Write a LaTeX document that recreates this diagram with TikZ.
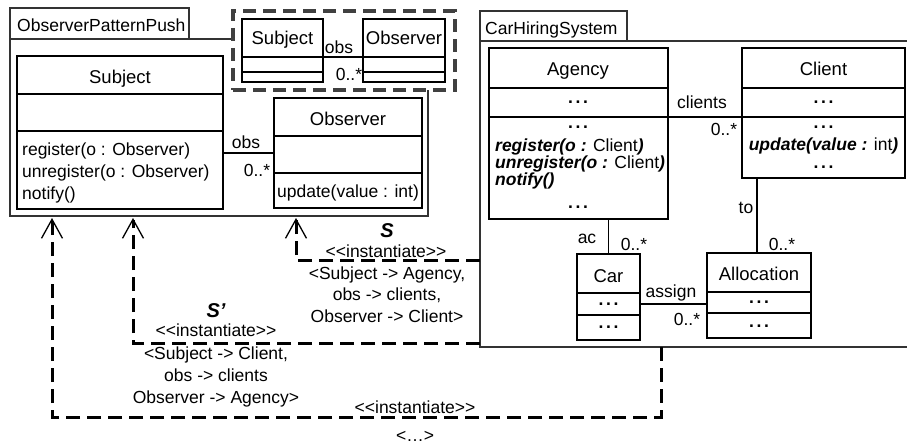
\documentclass[tikz,border=0pt]{standalone}
\usepackage{fontspec}
\setmainfont{Liberation Sans}
\usetikzlibrary{arrows.meta}
\newcommand\mysz{\fontsize{17.5}{20}\selectfont}
\newcommand\mynm{\fontsize{18.5}{22}\selectfont}
\newcommand\mybig{\fontsize{20}{24}\selectfont\bfseries\itshape}
\newcommand\mybi[1]{{\bfseries\itshape #1}}
\newcommand\myddd{\textbf{.\hspace{2.6pt}.\hspace{2.6pt}.}}
\tikzset{
  cls/.style={draw=black, line width=1.2pt, fill=white, anchor=north west, inner sep=0pt, outer sep=0pt},
  pkgbox/.style={draw=black!80, line width=1.6pt, anchor=north west, inner sep=0pt, outer sep=0pt},
  pkgline/.style={draw=black!80, line width=1.6pt},
  tmpl/.style={draw=black!75, line width=3.2pt, dash pattern=on 13pt off 7pt, fill=white, anchor=north west, inner sep=0pt, outer sep=0pt},
  sepline/.style={line width=1.2pt},
  assoc/.style={line width=1.2pt},
  txt/.style={inner sep=0pt, anchor=base, font=\mysz},
  txtl/.style={inner sep=0pt, anchor=base west, font=\mysz},
  cname/.style={inner sep=0pt, anchor=base, font=\mynm},
  bigl/.style={inner sep=0pt, anchor=base, font=\mybig},
  inst/.style={line width=3pt, dash pattern=on 14pt off 7pt, line join=miter},
  realizes/.style={-{Straight Barb[length=19pt,width=21pt,line width=1.3pt]}},
}
\begin{document}
\begin{tikzpicture}[x=1pt,y=-1pt]
\useasboundingbox (0,0) rectangle (907,444);
% ---------- ObserverPatternPush ----------
\node[pkgbox, minimum width=418pt, minimum height=177pt] (opp) at (10,39) {};
\node[pkgbox, minimum width=179pt, minimum height=31pt] (oppTab) at (10,8) {};
\node[txtl] (oppName) at (17,32) {ObserverPatternPush};
% template parameters
\node[tmpl, minimum width=222pt, minimum height=79pt] (tpl) at (233,11) {};
\node[cls, minimum width=81pt, minimum height=63pt] (tS) at (242,19) {};
\node[cls, minimum width=82pt, minimum height=63pt] (tO) at (363,19) {};
\draw[sepline] (tS.west |- 0,57) -- (tS.east |- 0,57) (tS.west |- 0,72) -- (tS.east |- 0,72);
\draw[sepline] (tO.west |- 0,57) -- (tO.east |- 0,57) (tO.west |- 0,72) -- (tO.east |- 0,72);
\node[cname] (tSn) at (282.5,45) {Subject};
\node[cname] (tOn) at (404,45) {Observer};
\draw[assoc] (tS.east |- 0,57) -- (tO.west |- 0,57);
\node[txt] (tobs) at (339,53) {obs};
\node[txt] (tmul) at (349,80) {0..*};
% Subject
\node[cls, minimum width=206pt, minimum height=153pt] (subj) at (17,56) {};
\draw[sepline] (subj.west |- 0,94) -- (subj.east |- 0,94) (subj.west |- 0,131) -- (subj.east |- 0,131);
\node[cname] (subjN) at (120,83) {Subject};
\node[txtl] (subjM1) at (22,155) {register(o : Observer)};
\node[txtl] (subjM2) at (22,177) {unregister(o : Observer)};
\node[txtl] (subjM3) at (22,199) {notify()};
% Observer
\node[cls, minimum width=148pt, minimum height=110pt] (obsv) at (274,98) {};
\draw[sepline] (obsv.west |- 0,136) -- (obsv.east |- 0,136) (obsv.west |- 0,173) -- (obsv.east |- 0,173);
\node[cname] (obsvN) at (348,125) {Observer};
\node[txtl] (obsvM1) at (277,197) {update(value : int)};
\draw[assoc] (subj.east |- 0,153) -- (obsv.west |- 0,153);
\node[txt] (aobs) at (246,148) {obs};
\node[txt] (amul) at (257,176) {0..*};
% ---------- CarHiringSystem ----------
\node[pkgbox, minimum width=147pt, minimum height=30pt] (chsTab) at (480,11) {};
\node[txtl] (chsName) at (485,35) {CarHiringSystem};
\coordinate (chsNE) at (907,41);
\coordinate (chsNW) at (480,41);
\coordinate (chsSW) at (480,347);
\coordinate (chsSE) at (907,347);
\draw[pkgline] (chsNE) -- (chsNW) -- (chsSW) -- (chsSE);
% Agency
\node[cls, minimum width=179pt, minimum height=171pt] (ag) at (489,48) {};
\draw[sepline] (ag.west |- 0,88) -- (ag.east |- 0,88) (ag.west |- 0,117) -- (ag.east |- 0,117);
\node[cname] (agN) at (578,75) {Agency};
\node[txt] (agD1) at (578,103) {\myddd};
\node[txt] (agD2) at (578,128) {\myddd};
\node[txtl] (agM1) at (495,151) {\mybi{register(o :} Client\mybi{)}};
\node[txtl] (agM2) at (495,168) {\mybi{unregister(o :} Client\mybi{)}};
\node[txtl] (agM3) at (495,185) {\mybi{notify()}};
\node[txt] (agD3) at (578,208) {\myddd};
% Client
\node[cls, minimum width=163pt, minimum height=130pt] (cl) at (742,48) {};
\draw[sepline] (cl.west |- 0,88) -- (cl.east |- 0,88) (cl.west |- 0,117) -- (cl.east |- 0,117);
\node[cname] (clN) at (823.5,75) {Client};
\node[txt] (clD1) at (823.5,103) {\myddd};
\node[txt] (clD2) at (823.5,128) {\myddd};
\node[txt] (clM1) at (823.5,150) {\mybi{update(value :} int\mybi{)}};
\node[txt] (clD3) at (823.5,168) {\myddd};
% Car
\node[cls, minimum width=63pt, minimum height=86pt] (car) at (577,254) {};
\draw[sepline] (car.west |- 0,293) -- (car.east |- 0,293) (car.west |- 0,315) -- (car.east |- 0,315);
\node[cname] (carN) at (608.5,282) {Car};
\node[txt] (carD1) at (608.5,305) {\myddd};
\node[txt] (carD2) at (608.5,328) {\myddd};
% Allocation
\node[cls, minimum width=104pt, minimum height=85pt] (al) at (707,253) {};
\draw[sepline] (al.west |- 0,292) -- (al.east |- 0,292) (al.west |- 0,313) -- (al.east |- 0,313);
\node[cname] (alN) at (759,280) {Allocation};
\node[txt] (alD1) at (759,303) {\myddd};
\node[txt] (alD2) at (759,327) {\myddd};
% associations
\draw[assoc] (ag.east |- 0,117) -- (cl.west |- 0,117);
\node[txt] (lclients) at (702,108) {clients};
\node[txt] (mclients) at (724,135) {0..*};
\draw[assoc] (ag.south -| car.north) -- (car.north);
\node[txt] (lac) at (587,243) {ac};
\node[txt] (mac) at (634,250) {0..*};
\draw[assoc] (cl.south -| 757,0) -- (al.north -| 757,0);
\node[txt] (lto) at (746,213) {to};
\node[txt] (mto) at (782,250) {0..*};
\draw[assoc] (car.east |- 0,304) -- (al.west |- 0,304);
\node[txt] (lassign) at (671,297) {assign};
\node[txt] (massign) at (687,325) {0..*};
% ---------- instantiations ----------
\coordinate (t1) at (52,218);
\coordinate (t2) at (133,218);
\coordinate (t3) at (296,218);
\coordinate (s1) at (661,347);
\coordinate (s2) at (480,343);
\coordinate (s3) at (480,260);
\draw[inst, realizes] (s1) -- (661,417) -| (t1);
\draw[inst, realizes] (s2) -| (t2);
\draw[inst, realizes] (s3) -| (t3);
% labels S
\node[bigl] (lS) at (387,237) {S};
\node[txt] (iS0) at (386,257) {<{}<instantiate>{}>};
\node[txt] (iS1) at (387,279) {<Subject -> Agency,};
\node[txt] (iS2) at (387,300) {obs -> clients,};
\node[txt] (iS3) at (387,322) {Observer -> Client>};
% labels S'
\node[bigl] (lS2) at (216,317) {S'};
\node[txt] (iT0) at (216,336) {<{}<instantiate>{}>};
\node[txt] (iT1) at (216,359) {<Subject -> Client,};
\node[txt] (iT2) at (216,381) {obs -> clients};
\node[txt] (iT3) at (216,403) {Observer -> Agency>};
% bottom
\node[txt] (iU0) at (415,413) {<{}<instantiate>{}>};
\node[txt] (iU1) at (415,441) {<…>};
\end{tikzpicture}
\end{document}
